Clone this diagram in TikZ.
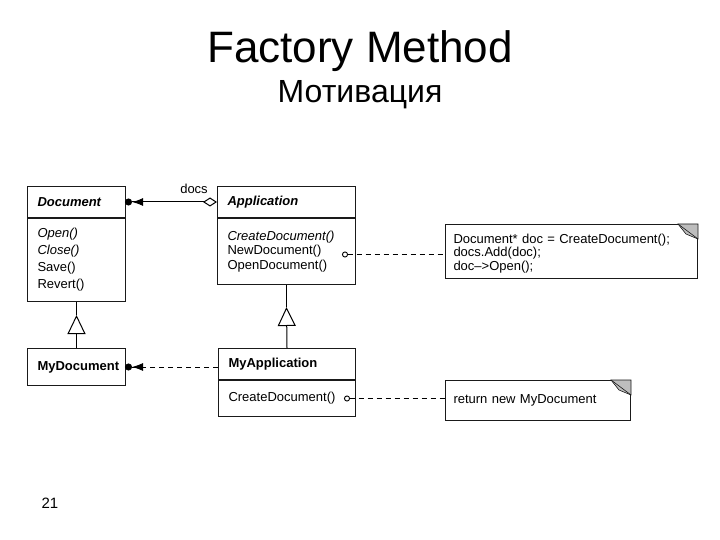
\documentclass[tikz,border=0pt]{standalone}
\usepackage{fontspec}
\setmainfont{Liberation Sans}
\usepackage{tikz}
\usetikzlibrary{arrows.meta, positioning, calc}
\definecolor{umlLine}{HTML}{1A1A1A}
\definecolor{earGray}{HTML}{BDBDBD}

\begin{document}
\begin{tikzpicture}[
  x=1pt, y=-1pt,
  classhead/.style={draw=umlLine, line width=1pt, anchor=north west, minimum height=31pt, inner xsep=10pt, inner ysep=0pt, align=left, font=\fontsize{13}{14}\selectfont\bfseries\itshape},
  classops/.style={draw=umlLine, line width=1pt, inner xsep=10pt, inner ysep=0pt, align=left},
  notebox/.style={draw=umlLine, line width=1pt, anchor=north west, inner xsep=8pt, inner ysep=0pt, align=left, font=\fontsize{13}{13.5}\selectfont},
  hook/.style={dash pattern=on 5pt off 4pt, line width=0.9pt, {Circle[open, length=6pt, width=6pt, line width=0.9pt]}-}
]
  \useasboundingbox[fill=white] (0,0) rectangle (720,540);

  \node[anchor=base] (title) at (360,63) {\fontsize{44}{48}\selectfont Factory Method};
  \node[anchor=base] (subtitle) at (360,103) {\fontsize{32}{36}\selectfont Мотивация};
  \node[anchor=base] (pagenum) at (50,508) {\fontsize{15}{18}\selectfont 21};

  % classes
  \node[classhead, text width=78pt] (doc) at (27,186) {Document};
  \node[classops, text width=78pt, minimum height=83pt, below=0pt of doc, font=\fontsize{13}{17}\selectfont] (docops)
    {\textit{Open()}\\\textit{Close()}\\Save()\\Revert()};
  \node[classhead, text width=118pt] (app) at (217,186) {Application};
  \node[classops, text width=118pt, minimum height=66pt, below=0pt of app, font=\fontsize{13}{14.5}\selectfont] (appops)
    {\textit{CreateDocument()}\\NewDocument()\\OpenDocument()};
  \node[classhead, text width=78pt, minimum height=37pt, font=\fontsize{13}{14}\selectfont\bfseries] (mydoc) at (27,348) {MyDocument};
  \node[classhead, text width=117pt, font=\fontsize{13}{14}\selectfont\bfseries] (myapp) at (218,348) {MyApplication};
  \node[classops, text width=117pt, minimum height=36pt, below=0pt of myapp, font=\fontsize{13}{14}\selectfont] (myappops)
    {CreateDocument()};

  % notes
  \node[notebox, text width=236pt, minimum height=54pt] (note1) at (445,224)
    {\rule{0pt}{13pt}Document* doc = CreateDocument();\\docs.Add(doc);\\doc--{}>Open();};
  \node[notebox, text width=169pt, minimum height=40pt] (note2) at (445,380)
    {return new MyDocument};
  \filldraw[fill=earGray, draw=umlLine, line width=0.6pt] ($(note1.north east)+(-20,0)$) -- (note1.north east) -- ($(note1.north east)+(0,15)$) -- ($(note1.north east)+(-12,10)$) -- cycle;
  \draw[umlLine, line width=0.6pt] ($(note1.north east)+(-20,0)$) -- ($(note1.north east)+(0,15)$);
  \filldraw[fill=earGray, draw=umlLine, line width=0.6pt] ($(note2.north east)+(-20,0)$) -- (note2.north east) -- ($(note2.north east)+(0,15)$) -- ($(note2.north east)+(-12,10)$) -- cycle;
  \draw[umlLine, line width=0.6pt] ($(note2.north east)+(-20,0)$) -- ($(note2.north east)+(0,15)$);

  % relations
  \draw[line width=1pt, {Diamond[open, fill=white, length=14pt, width=9pt]}-{Latex[length=11pt, width=8pt] Circle[length=7pt, sep=-1pt]}] (app.west) -- (doc.east);
  \node[font=\fontsize{13}{14}\selectfont] (docslbl) at (194,189) {docs};

  \coordinate (inh1) at ([yshift=-13pt]docops.south);
  \coordinate (inh2) at ([yshift=-22pt]appops.south);
  \draw[line width=1pt, -{Triangle[open, fill=white, length=19pt, width=18pt]}] (mydoc.north) -- (inh1);
  \draw[line width=1pt] (inh1) -- (docops.south);
  \draw[line width=1pt, -{Triangle[open, fill=white, length=19pt, width=18pt]}] (myapp.north) -- (inh2);
  \draw[line width=1pt] (inh2) -- (appops.south);

  \draw[dash pattern=on 5pt off 4pt, line width=0.9pt, -{Latex[length=11pt, width=8pt] Circle[length=7pt, sep=-1pt]}] (mydoc.east -| myapp.west) -- (mydoc.east);

  \coordinate (hook1) at ([xshift=-14pt, yshift=-3pt]appops.east);
  \coordinate (hook2) at ([xshift=-12pt]myappops.east);
  \draw[hook] (hook1) -- (hook1 -| note1.west);
  \draw[hook] (hook2) -- (hook2 -| note2.west);
\end{tikzpicture}
\end{document}
